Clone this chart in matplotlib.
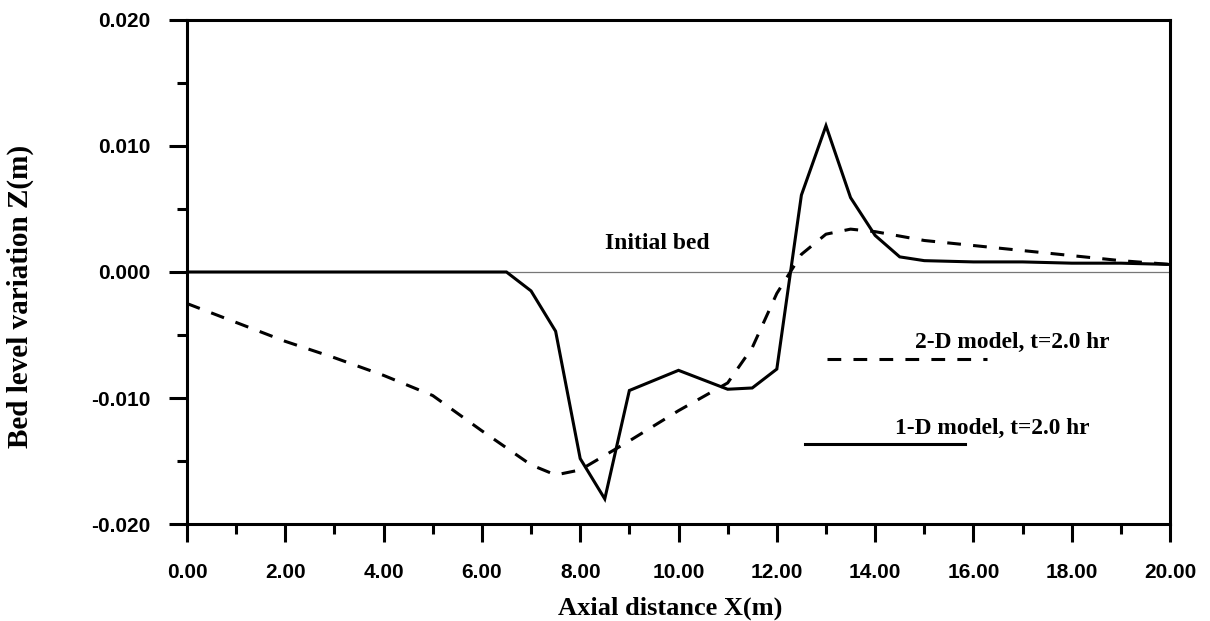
import matplotlib
matplotlib.use("Agg")
import matplotlib.pyplot as plt
from matplotlib.ticker import MultipleLocator, FormatStrFormatter

# 1-D model, t=2.0 hr (solid line)
x_1d = [0.0, 6.5, 7.0, 7.5, 8.0, 8.5, 9.0, 10.0, 11.0, 11.5, 12.0, 12.5,
        13.0, 13.5, 14.0, 14.5, 15.0, 16.0, 17.0, 18.0, 19.0, 20.0]
z_1d = [0.0, 0.0, -0.0015, -0.0047, -0.0148, -0.0180, -0.0094, -0.0078,
        -0.0093, -0.0092, -0.0077, 0.0061, 0.0116, 0.0059, 0.0029, 0.0012,
        0.0009, 0.0008, 0.0008, 0.0007, 0.0007, 0.0006]

# 2-D model, t=2.0 hr (dashed line)
x_2d = [0.0, 1.0, 2.0, 3.0, 4.0, 5.0, 6.0, 7.0, 7.5, 8.0, 9.0, 10.0, 11.0,
        11.5, 12.0, 12.5, 13.0, 13.5, 14.0, 15.0, 16.0, 17.0, 18.0, 19.0, 20.0]
z_2d = [-0.0025, -0.0040, -0.0055, -0.0068, -0.0082, -0.0098, -0.0126,
        -0.0153, -0.0161, -0.0157, -0.0134, -0.0110, -0.0088, -0.0060,
        -0.0017, 0.0014, 0.0030, 0.0034, 0.0032, 0.0025, 0.0021, 0.0017,
        0.0013, 0.0009, 0.0006]

# initial bed
x_init = [0.0, 20.0]
z_init = [0.0, 0.0]

x_ticks = [0, 2, 4, 6, 8, 10, 12, 14, 16, 18, 20]
y_ticks = [-0.02, -0.01, 0.0, 0.01, 0.02]

fig = plt.figure(figsize=(12.1, 6.21), dpi=100)
ax = fig.add_axes([0.1545, 0.156, 0.8125, 0.812])

ax.plot(x_init, z_init, color="#777777", lw=0.9)
ax.plot(x_1d, z_1d, color="black", lw=2.2, solid_joinstyle="miter")
ax.plot(x_2d, z_2d, color="black", lw=2.2, dashes=(4.5, 4))

ax.set_xlim(0, 20)
ax.set_ylim(-0.02, 0.02)
ax.set_xticks(x_ticks)
ax.set_yticks(y_ticks)
ax.xaxis.set_major_formatter(FormatStrFormatter("%.2f"))
ax.yaxis.set_major_formatter(FormatStrFormatter("%.3f"))
ax.xaxis.set_minor_locator(MultipleLocator(1))
ax.yaxis.set_minor_locator(MultipleLocator(0.005))

for s in ax.spines.values():
    s.set_linewidth(2.2)

ax.tick_params(which="major", direction="out", length=13, width=2.2,
               labelsize=15)
ax.tick_params(which="minor", direction="out", length=7, width=2.2)
ax.tick_params(axis="x", which="major", pad=15)
ax.tick_params(axis="y", which="major", pad=13)
for lab in ax.get_xticklabels() + ax.get_yticklabels():
    lab.set_fontweight("bold")
    lab.set_family("Liberation Sans")

serif = "Liberation Serif"
ax.set_xlabel("Axial distance X(m)", family=serif, fontweight="bold",
              fontsize=19, va="center")
ax.set_ylabel("Bed level variation Z(m)", family=serif, fontweight="bold",
              fontsize=21, va="center")
ax.xaxis.set_label_coords(0.492, -0.167)
ax.yaxis.set_label_coords(-0.169, 0.452)

ax.text(9.56, 0.0023, "Initial bed", family=serif, fontweight="bold",
        fontsize=17, ha="center", va="center")

# hand-placed legend, text sitting just above each key line
ax.text(14.81, -0.0056, "2-D model, t=2.0 hr", family=serif,
        fontweight="bold", fontsize=16.8, ha="left", va="center")
ax.plot([0.651, 0.814], [0.327, 0.327], transform=ax.transAxes,
        color="black", lw=2.2, dashes=(4.5, 4))
ax.text(14.40, -0.0124, "1-D model, t=2.0 hr", family=serif,
        fontweight="bold", fontsize=16.8, ha="left", va="center")
ax.plot([0.629, 0.791], [0.159, 0.159], transform=ax.transAxes,
        color="black", lw=2.2)

fig.savefig("out.png", dpi=100)
